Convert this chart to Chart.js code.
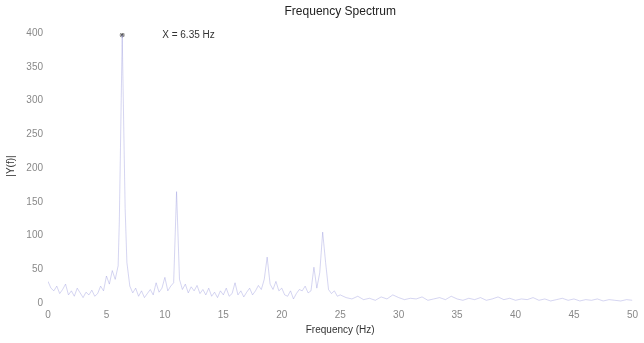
<!DOCTYPE html>
<html>
<head>
<meta charset="utf-8">
<script src="https://cdn.jsdelivr.net/npm/chart.js@4/dist/chart.umd.min.js"></script>
<style>
    html, body { margin: 0; padding: 0; background: #fff; }
    #wrap { width: 644px; height: 343px; position: relative; }
</style>
</head>
<body>
<div id="wrap"><canvas id="chart"></canvas></div>
<script>
// spectrum, 0-25 Hz fine, 25-50 Hz coarse
const freqs = [
    0, 0.25, 0.5, 0.75, 1, 1.25, 1.5, 1.75, 2, 2.25, 2.5, 2.75, 3, 3.25, 3.5, 3.75,
    4, 4.25, 4.5, 4.75, 5, 5.25, 5.5, 5.75, 6, 6.1, 6.2, 6.35, 6.5, 6.6, 6.75, 7,
    7.25, 7.5, 7.75, 8, 8.25, 8.5, 8.75, 9, 9.25, 9.5, 9.75, 10, 10.25, 10.5, 10.75, 11,
    11.25, 11.5, 11.75, 12, 12.25, 12.5, 12.75, 13, 13.25, 13.5, 13.75, 14, 14.25, 14.5, 14.75, 15,
    15.25, 15.5, 15.75, 16, 16.25, 16.5, 16.75, 17, 17.25, 17.5, 17.75, 18, 18.25, 18.5, 18.75, 19,
    19.25, 19.5, 19.75, 20, 20.25, 20.5, 20.75, 21, 21.25, 21.5, 21.75, 22, 22.25, 22.5, 22.75, 23,
    23.25, 23.5, 23.75, 24, 24.25, 24.5, 24.75, 25,
    25.5, 26, 26.5, 27, 27.5, 28, 28.5, 29, 29.5, 30, 30.5, 31, 31.5, 32, 32.5, 33,
    33.5, 34, 34.5, 35, 35.5, 36, 36.5, 37, 37.5, 38, 38.5, 39, 39.5, 40, 40.5, 41,
    41.5, 42, 42.5, 43, 43.5, 44, 44.5, 45, 45.5, 46, 46.5, 47, 47.5, 48, 48.5, 49,
    49.5, 50
];
const magnitude = [
    32, 22, 18, 25, 14, 20, 28, 12, 18, 10, 22, 15, 8, 16, 12, 19,
    10, 14, 25, 18, 40, 28, 48, 35, 55, 120, 230, 397, 240, 140, 60, 25,
    15, 22, 10, 18, 8, 14, 20, 12, 30, 16, 22, 38, 18, 25, 30, 165,
    35, 20, 28, 15, 24, 18, 26, 14, 20, 12, 22, 10, 16, 8, 18, 12,
    22, 10, 14, 30, 12, 18, 9, 16, 22, 12, 18, 26, 20, 35, 68, 28,
    20, 32, 18, 22, 12, 10, 18, 6, 14, 20, 18, 25, 15, 18, 53, 22,
    45, 105, 60, 20, 14, 18, 10, 12,
    8, 6, 10, 5, 7, 4, 9, 6, 12, 8, 5, 7, 6, 9, 4, 6,
    8, 5, 10, 6, 4, 7, 5, 8, 4, 6, 9, 5, 7, 4, 6, 5,
    8, 4, 6, 3, 5, 7, 4, 6, 3, 5, 4, 6, 3, 5, 4, 3,
    5, 4
];
const xTicks = [0, 5, 10, 15, 20, 25, 30, 35, 40, 45, 50];
const yTicks = [0, 50, 100, 150, 200, 250, 300, 350, 400];
const peakFreq = 6.35;
const peakMag = 397;

const FONT = 'Liberation Sans, Arial, sans-serif';

// title, axis titles and the peak note, drawn straight on the canvas
const textPlugin = {
    id: 'texts',
    afterDraw(chart) {
        const ctx = chart.ctx;
        const area = chart.chartArea;
        const x = chart.scales.x, y = chart.scales.y;
        ctx.save();
        ctx.fillStyle = '#222';
        ctx.font = '12px ' + FONT;
        ctx.textAlign = 'center';
        ctx.textBaseline = 'middle';
        ctx.fillText('Frequency Spectrum', (area.left + area.right) / 2, 12);

        ctx.fillStyle = '#333';
        ctx.font = '10px ' + FONT;
        ctx.fillText('Frequency (Hz)', (area.left + area.right) / 2, 330);

        ctx.save();
        ctx.translate(11, 166);
        ctx.rotate(-Math.PI / 2);
        ctx.fillText('|Y(f)|', 0, 0);
        ctx.restore();

        const px = x.getPixelForValue(peakFreq);
        const py = y.getPixelForValue(peakMag);
        ctx.textAlign = 'left';
        ctx.fillStyle = '#333';
        ctx.fillText('X = ' + peakFreq.toFixed(2) + ' Hz', px + 40, py);
        ctx.restore();
    }
};

new Chart(document.getElementById('chart'), {
    type: 'line',
    data: {
        datasets: [{
            data: freqs.map((f, i) => ({ x: f, y: magnitude[i] })),
            borderColor: 'rgba(150, 150, 220, 0.4)',
            borderWidth: 1,
            pointRadius: 0,
            tension: 0
        }, {
            data: [{ x: peakFreq, y: peakMag }],
            showLine: false,
            pointStyle: 'star',
            pointRadius: 2.5,
            borderWidth: 1,
            borderColor: '#555',
            backgroundColor: '#555'
        }]
    },
    options: {
        responsive: true,
        maintainAspectRatio: false,
        animation: false,
        layout: { padding: { top: 33, right: 1, left: 0, bottom: 0 } },
        plugins: {
            legend: { display: false },
            tooltip: { enabled: false }
        },
        scales: {
            x: {
                type: 'linear',
                min: 0,
                max: 50,
                grid: { display: false, drawTicks: false },
                border: { display: false },
                afterBuildTicks: axis => { axis.ticks = xTicks.map(v => ({ value: v })); },
                afterFit: axis => { axis.height = 40; },
                ticks: { color: '#888', font: { family: FONT, size: 10 }, padding: 6, maxRotation: 0 }
            },
            y: {
                min: 0,
                max: 400,
                grid: { display: false, drawTicks: false },
                border: { display: false },
                afterBuildTicks: axis => { axis.ticks = yTicks.map(v => ({ value: v })); },
                afterFit: axis => { axis.width = 48; },
                ticks: { color: '#888', font: { family: FONT, size: 10 }, padding: 5 }
            }
        }
    },
    plugins: [textPlugin]
});
</script>
</body>
</html>
